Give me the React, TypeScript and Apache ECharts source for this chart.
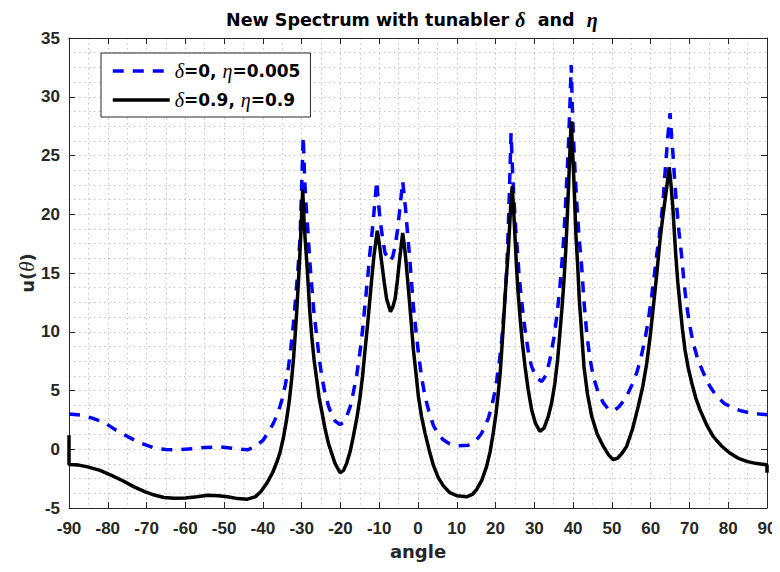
import React, { useEffect, useRef } from 'react';
import * as echarts from 'echarts';

// ---------- data ----------
const xMin = -90;
const xMax = 90;
const xStep = 10;
const yMin = -5;
const yMax = 35;
const yStep = 5;

const blueName = 'δ=0, η=0.005';
const blackName = 'δ=0.9, η=0.9';

const blueCurve: [number, number][] = [
  [-90, 3.0], [-87, 2.9], [-84, 2.65], [-81, 2.3], [-78, 1.65], [-75, 1.1], [-72, 0.6], [-68, 0.1],
  [-65, -0.02], [-62, -0.05], [-58, 0.05], [-55, 0.15], [-51, 0.2], [-47, 0.05], [-44, -0.05],
  [-42, 0.2], [-40, 0.75], [-38.5, 1.5], [-37.3, 2.2], [-36, 3.2], [-35.1, 4.2], [-34.2, 5.5],
  [-33.4, 7.0], [-32.8, 8.6], [-32.2, 10.4], [-31.3, 13.9], [-30.8, 16.0], [-30.4, 18.1],
  [-30.0, 22.4], [-29.6, 26.6], [-29.2, 22.8], [-28.9, 21.0], [-28.3, 18.1], [-27.9, 16.0],
  [-27.4, 13.9], [-26.8, 11.5], [-26.1, 9.6], [-25.5, 7.8], [-24.8, 6.2], [-24, 4.8], [-23.1, 3.7],
  [-22.2, 2.9], [-21.4, 2.4], [-20.1, 2.1], [-19.2, 2.3], [-18.4, 2.8], [-17.5, 3.6], [-16.7, 4.8],
  [-15.8, 6.3], [-15.0, 8.2], [-14.3, 10.1], [-13.7, 12.2], [-13.0, 14.5], [-12.4, 16.7],
  [-11.8, 18.6], [-11.35, 20.2], [-10.65, 22.8], [-10.2, 21.0], [-9.8, 19.6], [-9.1, 17.9],
  [-8.5, 16.7], [-7.2, 16.0], [-6.5, 16.4], [-5.9, 17.3], [-5.3, 18.6], [-4.8, 20.1], [-3.95, 22.8],
  [-3.5, 21.4], [-3.1, 20.1], [-2.7, 18.4], [-2.25, 16.7], [-1.7, 14.4], [-1.2, 12.2], [-0.5, 10.0],
  [0.1, 8.2], [0.9, 6.2], [1.8, 4.5], [2.9, 3.1], [4.0, 2.0], [5.2, 1.3], [6.5, 0.8], [8.2, 0.45],
  [10, 0.3], [13.0, 0.35], [15.1, 0.8], [16.3, 1.3], [17.3, 1.95], [18.2, 2.7], [19.0, 3.65],
  [19.7, 4.7], [20.3, 5.9], [21.0, 7.5], [21.6, 9.3], [22.0, 11.0], [22.4, 12.7], [22.8, 14.9],
  [23.1, 17.0], [23.5, 21.2], [24.0, 26.9], [24.4, 23.5], [24.75, 21.2], [25.2, 18.8], [25.6, 17.0],
  [26.1, 14.7], [26.7, 12.7], [27.3, 10.9], [28.0, 9.3], [28.6, 8.0], [29.3, 7.05], [30.5, 6.1],
  [31.9, 5.77], [33.0, 6.3], [34.0, 7.6], [35.0, 9.4], [35.8, 11.3], [36.5, 13.5], [37.05, 15.6],
  [37.5, 17.6], [37.9, 19.8], [38.3, 22.5], [38.75, 25.5], [39.2, 29.5], [39.5, 32.7], [39.9, 28.0],
  [40.4, 24.3], [40.9, 21.2], [41.5, 18.2], [42.2, 15.6], [42.8, 12.6], [43.5, 9.9], [44.3, 7.8],
  [45.2, 6.2], [46.4, 4.9], [47.8, 3.94], [49, 3.45], [50.35, 3.25], [51.8, 3.6], [53.0, 4.1],
  [53.8, 4.5], [55.2, 5.5], [56.4, 6.5], [57.5, 7.8], [58.5, 9.3], [59.4, 11.0], [60.25, 13.0],
  [60.9, 14.7], [61.5, 16.4], [62.2, 18.1], [62.8, 19.8], [63.3, 21.6], [63.7, 23.5], [64.1, 25.2],
  [64.5, 26.9], [65.0, 28.6], [65.4, 26.6], [65.8, 24.9], [66.2, 22.8], [66.7, 20.7], [67.3, 18.5],
  [68.0, 16.4], [68.6, 14.2], [69.3, 12.2], [70.1, 10.5], [71.0, 9.0], [72.2, 7.6], [73.6, 6.5],
  [75.2, 5.4], [77.0, 4.5], [79, 3.9], [81.3, 3.5], [83.5, 3.25], [85.6, 3.1], [88, 3.0], [90, 2.94],
];

const blackCurve: [number, number][] = [
  [-90, 1.2], [-90, -1.3], [-87.5, -1.35], [-85.2, -1.5], [-82, -1.8], [-79.2, -2.2], [-76, -2.7],
  [-73.2, -3.2], [-70.5, -3.6], [-68, -3.9], [-65.5, -4.1], [-62.9, -4.17], [-60, -4.15], [-57, -4.05],
  [-54.3, -3.92], [-51.5, -3.95], [-49.1, -4.05], [-46.5, -4.2], [-44, -4.25], [-42, -4.05],
  [-40.5, -3.6], [-39, -2.9], [-37.5, -2.0], [-36.3, -1.0], [-35.6, -0.3], [-34.7, 1.0], [-33.9, 2.5],
  [-33.2, 4.1], [-32.6, 5.9], [-32.1, 7.7], [-31.7, 9.6], [-31.3, 11.6], [-30.9, 13.9], [-30.55, 16.0],
  [-30.25, 18.1], [-29.74, 22.1], [-29.4, 19.5], [-29.14, 18.1], [-28.7, 16.0], [-28.3, 13.9],
  [-27.9, 11.7], [-27.4, 9.6], [-26.8, 7.6], [-26.1, 5.9], [-25.5, 4.4], [-24.8, 3.2], [-24, 1.8],
  [-23.1, 0.5], [-22.2, -0.4], [-21.4, -1.2], [-20.1, -2.0], [-19.2, -1.8], [-18.4, -1.2],
  [-17.5, -0.2], [-16.7, 1.05], [-15.8, 2.6], [-15.0, 4.3], [-14.3, 6.2], [-13.7, 8.3], [-13.0, 10.6],
  [-12.4, 12.8], [-11.85, 14.8], [-11.35, 16.5], [-10.5, 18.6], [-9.9, 17.3], [-9.4, 16.0],
  [-8.7, 14.2], [-8.1, 12.8], [-7.1, 11.7], [-6.5, 12.1], [-5.9, 12.8], [-5.3, 14.4], [-4.8, 16.0],
  [-3.95, 18.4], [-3.5, 17.3], [-3.1, 16.0], [-2.7, 14.5], [-2.25, 12.8], [-1.7, 10.6], [-1.2, 8.5],
  [-0.5, 6.4], [0.1, 4.5], [0.9, 2.8], [1.8, 1.4], [2.9, -0.1], [4.0, -1.4], [5.2, -2.4], [6.5, -3.1],
  [8.2, -3.7], [10, -3.95], [12.55, -4.05], [14, -3.85], [15.1, -3.44], [16.5, -2.6], [17.7, -1.46],
  [18.6, -0.2], [19.4, 1.38], [20.1, 3.0], [20.7, 4.79], [21.2, 6.5], [21.6, 8.47], [22.0, 10.5],
  [22.4, 12.73], [22.85, 14.9], [23.3, 16.98], [23.9, 20.67], [24.3, 22.37], [24.75, 19.8],
  [25.4, 15.56], [25.8, 13.4], [26.3, 11.3], [26.9, 9.1], [27.6, 7.05], [28.4, 5.1], [29.3, 3.37],
  [30.3, 2.2], [31.45, 1.52], [32.5, 1.8], [33.6, 2.8], [34.5, 4.0], [35.3, 5.64], [36.0, 7.6],
  [36.6, 9.9], [37.1, 11.9], [37.6, 14.15], [38.1, 16.9], [38.5, 19.8], [39.2, 25.5], [39.5, 27.9],
  [40.05, 24.1], [40.4, 21.2], [40.7, 18.4], [41.2, 15.5], [41.6, 12.73], [42.2, 9.9], [42.8, 7.05],
  [43.7, 4.7], [44.8, 2.8], [46.2, 1.3], [47.8, 0.24], [49.2, -0.5], [50.35, -0.89], [51.5, -0.75],
  [52.7, -0.3], [53.8, 0.24], [55.3, 1.7], [56.8, 3.65], [58, 5.4], [59.0, 7.34], [59.9, 9.7],
  [60.7, 12.16], [61.6, 15.0], [62.4, 17.8], [63.1, 19.7], [63.7, 21.2], [64.8, 24.0], [65.3, 22.3],
  [65.7, 20.67], [66.1, 18.5], [66.5, 16.4], [67.0, 14.2], [67.6, 12.16], [68.2, 10.2], [68.85, 8.47],
  [69.7, 6.9], [70.6, 5.64], [71.6, 4.4], [72.7, 3.37], [74.4, 2.1], [76.1, 1.1], [78.2, 0.3],
  [80.4, -0.32], [82.5, -0.75], [84.75, -1.03], [87, -1.2], [89.5, -1.3], [90, -1.35], [90, -2.0],
];

const titleParts = ['New Spectrum with tunabler ', 'δ', '  and  ', 'η'];

// ---------- styling ----------
const SANS = 'Liberation Sans, Arial, Helvetica, sans-serif';
const WIDE = 'DejaVu Sans, Liberation Sans, sans-serif';
const SERIF = 'Liberation Serif, DejaVu Serif, serif';
const AXIS_COLOR = '#262626';
const GRID_STYLE = { color: '#c4c4c4', width: 1, type: [1.5, 3.5] as number[] };

function toRich(s: string): string {
  let out = '';
  let buf = '';
  for (const ch of s) {
    if (ch === 'δ' || ch === 'η' || ch === 'θ') {
      if (buf) out += `{b|${buf}}`;
      buf = '';
      out += `{i|${ch}}`;
    } else buf += ch;
  }
  if (buf) out += `{b|${buf}}`;
  return out;
}

function measure(text: string, font: string): number {
  const c = document.createElement('canvas').getContext('2d');
  if (!c) return text.length * 10;
  c.font = font;
  return c.measureText(text).width;
}

export default function App() {
  const ref = useRef<HTMLDivElement>(null);

  useEffect(() => {
    if (!ref.current) return;
    const chart = echarts.init(ref.current, undefined, { renderer: 'svg' });

    const gridLeft = 69;
    const gridRight = 13;
    const titleCenter = 411;
    const titleW =
      measure(titleParts[0], `bold 17.5px ${WIDE}`) +
      measure(titleParts[1], `italic 20px ${SERIF}`) +
      measure(titleParts[2], `bold 17.5px ${WIDE}`) +
      measure(titleParts[3], `italic 20px ${SERIF}`);

    const axisLine = { show: true, onZero: false, lineStyle: { color: AXIS_COLOR, width: 1 } };
    const axisTick = { show: true, inside: true, length: 6, lineStyle: { color: AXIS_COLOR, width: 1 } };
    const baseX = { type: 'value' as const, min: xMin, max: xMax, interval: xStep, axisLine, axisTick };
    const baseY = { type: 'value' as const, min: yMin, max: yMax, interval: yStep, axisLine, axisTick };
    const labelStyle = {
      color: AXIS_COLOR,
      fontSize: 17,
      fontWeight: 'bold' as const,
      fontFamily: SANS,
    };
    const richB = { fontFamily: WIDE, fontWeight: 'bold' as const, fontSize: 17, color: '#000', lineHeight: 20 };
    const richI = { fontFamily: SERIF, fontStyle: 'italic' as const, fontSize: 20, color: '#000', lineHeight: 20 };

    chart.setOption({
      animation: false,
      backgroundColor: '#ffffff',
      title: {
        text: `{b|${titleParts[0]}}{i|${titleParts[1]}}{b|${titleParts[2]}}{i|${titleParts[3]}}`,
        left: Math.round(titleCenter - titleW / 2),
        top: 10,
        padding: 0,
        textStyle: { rich: { b: { ...richB, fontSize: 17.5 }, i: richI } },
      },
      grid: { left: gridLeft, right: gridRight, top: 38, bottom: 64, containLabel: false },
      legend: {
        data: [blueName, blackName],
        orient: 'vertical',
        left: 101,
        top: 53,
        padding: [8, 10, 7, 10],
        itemGap: 9,
        itemWidth: 57,
        itemHeight: 14,
        borderColor: '#262626',
        borderWidth: 1,
        backgroundColor: '#ffffff',
        lineStyle: { width: 3.5 },
        itemStyle: { color: 'rgba(0,0,0,0)', borderColor: 'rgba(0,0,0,0)', borderWidth: 0 },
        formatter: (name: string) => toRich(name),
        textStyle: { rich: { b: richB, i: richI } },
      },
      xAxis: [
        {
          ...baseX,
          position: 'bottom',
          axisLabel: { ...labelStyle, margin: 12 },
          splitLine: { show: true, lineStyle: GRID_STYLE },
          minorTick: { show: false, splitNumber: 2 },
          minorSplitLine: { show: true, lineStyle: GRID_STYLE },
          name: 'angle',
          nameLocation: 'middle',
          nameGap: 34,
          nameMoveOverlap: false,
          nameTextStyle: { color: AXIS_COLOR, fontSize: 18, fontWeight: 'bold', fontFamily: WIDE },
        },
        {
          ...baseX,
          position: 'top',
          axisLabel: { show: false },
          splitLine: { show: false },
        },
      ],
      yAxis: [
        {
          ...baseY,
          position: 'left',
          axisLabel: { ...labelStyle, margin: 9 },
          splitLine: { show: true, lineStyle: GRID_STYLE },
          minorTick: { show: false, splitNumber: 4 },
          minorSplitLine: { show: true, lineStyle: GRID_STYLE },
          name: toRich('u(θ)'),
          nameLocation: 'middle',
          nameGap: 32,
          nameMoveOverlap: false,
          nameTextStyle: {
            color: AXIS_COLOR,
            rich: {
              b: { ...richB, fontSize: 18, color: AXIS_COLOR },
              i: { ...richI, fontSize: 21, color: AXIS_COLOR },
            },
          },
        },
        {
          ...baseY,
          position: 'right',
          axisLabel: { show: false },
          splitLine: { show: false },
        },
      ],
      series: [
        {
          name: blueName,
          type: 'line',
          xAxisIndex: 0,
          yAxisIndex: 0,
          data: blueCurve,
          showSymbol: false,
          symbol: 'circle',
          color: '#0000ff',
          lineStyle: { color: '#0000ff', width: 3.5, type: [11, 9], cap: 'butt' },
        },
        {
          name: blackName,
          type: 'line',
          xAxisIndex: 0,
          yAxisIndex: 0,
          data: blackCurve,
          showSymbol: false,
          symbol: 'circle',
          color: '#000000',
          lineStyle: { color: '#000000', width: 3.5, type: 'solid' },
        },
      ],
    });

    return () => chart.dispose();
  }, []);

  return <div ref={ref} style={{ width: 780, height: 572, margin: -8 }} />;
}
